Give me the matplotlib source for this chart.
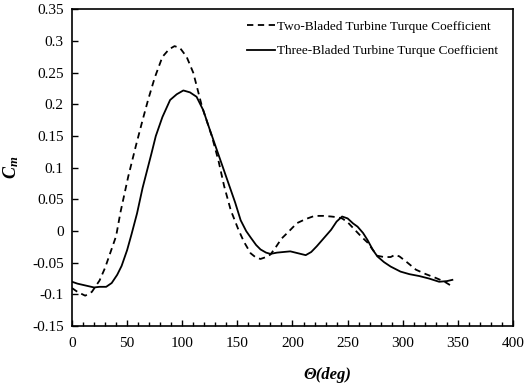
import numpy as np
import matplotlib
matplotlib.use('Agg')
import matplotlib.pyplot as plt
from matplotlib.ticker import MultipleLocator, FuncFormatter

plt.rcParams['font.family'] = 'Liberation Serif'
plt.rcParams['mathtext.fontset'] = 'custom'
plt.rcParams['mathtext.it'] = 'Liberation Serif:italic:bold'
plt.rcParams['mathtext.rm'] = 'Liberation Serif'

# two-bladed turbine (dashed)
theta_two = [0, 5, 12, 18, 25, 30, 35, 40, 44, 51, 58, 64, 69, 75, 82, 88, 93, 98, 104, 110,
             118, 127, 133, 138, 144, 151, 156, 162, 167, 171, 176, 180, 185, 190, 197, 204,
             212, 220, 228, 235, 240, 245, 250, 256, 262, 268, 273, 277, 283, 289, 293, 297,
             303, 312, 321, 330, 338, 345]
cm_two = [-0.090, -0.096, -0.102, -0.096, -0.078, -0.058, -0.033, -0.008, 0.030, 0.086,
          0.135, 0.175, 0.207, 0.242, 0.275, 0.287, 0.292, 0.289, 0.275, 0.250,
          0.196, 0.149, 0.110, 0.071, 0.033, 0.002, -0.017, -0.035, -0.042, -0.044,
          -0.041, -0.037, -0.025, -0.012, 0.000, 0.0125, 0.019, 0.024, 0.024, 0.023,
          0.022, 0.020, 0.014, 0.003, -0.008, -0.018, -0.030, -0.039, -0.041, -0.041,
          -0.0375, -0.040, -0.048, -0.061, -0.068, -0.074, -0.080, -0.0875]

# three-bladed turbine (solid)
theta_three = [0, 5, 10, 15, 20, 25, 31, 36, 41, 45, 50, 54, 59, 64, 68, 72, 76, 82, 89, 95,
               101, 107, 113, 119, 125, 131, 136, 141, 144, 148, 153, 158, 162, 167, 171, 176,
               180, 186, 192, 198, 205, 212, 217, 222, 228, 235, 240, 245, 250, 255, 259, 264,
               268, 273, 277, 283, 289, 298, 306, 315, 324, 333, 340, 345]
cm_three = [-0.080, -0.083, -0.085, -0.087, -0.089, -0.088, -0.088, -0.082, -0.069, -0.055,
            -0.030, -0.005, 0.028, 0.068, 0.095, 0.122, 0.150, 0.180, 0.207, 0.216,
            0.222, 0.219, 0.212, 0.191, 0.160, 0.130, 0.105, 0.080, 0.065, 0.045,
            0.017, 0.000, -0.010, -0.022, -0.029, -0.034, -0.036, -0.034, -0.033, -0.032,
            -0.035, -0.038, -0.033, -0.024, -0.012, 0.002, 0.015, 0.023, 0.020, 0.012,
            0.007, -0.003, -0.014, -0.030, -0.040, -0.049, -0.056, -0.064, -0.068, -0.071,
            -0.075, -0.080, -0.079, -0.077]

fig = plt.figure(figsize=(5.24, 3.91), dpi=100)
ax = fig.add_axes([0.1374, 0.166, 0.8416, 0.81])

ax.plot(theta_two, cm_two, color='black', linewidth=1.3, linestyle=(0, (3.5, 2.5)),
        label='Two-Bladed Turbine Turque Coefficient')
ax.plot(theta_three, cm_three, color='black', linewidth=1.3, linestyle='-',
        label='Three-Bladed Turbine Turque Coefficient')

ax.set_xlim(0, 400)
ax.set_ylim(-0.15, 0.35)
ax.xaxis.set_major_locator(MultipleLocator(50))
ax.xaxis.set_minor_locator(MultipleLocator(10))
ax.yaxis.set_major_locator(MultipleLocator(0.05))
ax.yaxis.set_major_formatter(FuncFormatter(lambda v, p: '%g' % round(v, 2)))

ax.tick_params(axis='x', which='major', direction='in', length=4, width=1, labelsize=11, pad=8)
ax.tick_params(axis='x', which='minor', direction='in', length=3, width=1)
ax.tick_params(axis='y', which='major', direction='in', length=4, width=1, labelsize=11, pad=6)
for s in ['top', 'bottom', 'left', 'right']:
    ax.spines[s].set_linewidth(1.2)

ax.set_xlabel('Θ(deg)', fontsize=12, fontweight='bold', fontstyle='italic')
ax.xaxis.set_label_coords(0.58, -0.13)
ax.set_ylabel(r'$C_m$', fontsize=13)
ax.yaxis.set_label_coords(-0.115, 0.5)

ax.legend(loc='upper left', bbox_to_anchor=((247 - 72) / 441, 0.965), frameon=False,
          fontsize=9.5, handlelength=2.1, handletextpad=0.2, labelspacing=0.95,
          borderaxespad=0, borderpad=0)

fig.savefig('out.png', dpi=100)
